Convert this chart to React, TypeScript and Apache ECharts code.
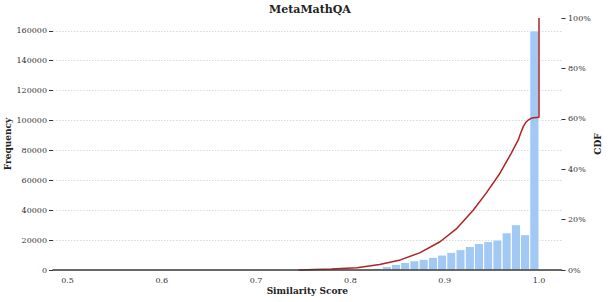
import React, { useEffect, useRef } from "react";
import * as echarts from "echarts";

// ---------- data ----------
const TITLE = "MetaMathQA";
const X_NAME = "Similarity Score";
const Y_NAME = "Frequency";
const Y2_NAME = "CDF";

// histogram: 50 bins from BIN_START, each BIN_WIDTH wide
const BIN_START = 0.511;
const BIN_WIDTH = 0.00978;
const BIN_COUNTS = [
  0, 0, 0, 0, 0, 0, 0, 0, 0, 0,
  0, 0, 0, 0, 0, 0, 0, 0, 0, 0,
  0, 0, 20, 40, 70, 110, 170, 260, 150, 250,
  400, 700, 1200, 2300, 3800, 5000, 6200, 7200, 8500, 10000,
  11800, 13600, 15700, 17700, 19000, 20100, 24900, 30300, 23600, 160000,
];

// cumulative distribution (last point: the jump at 1.0)
const CDF_X = [
  0.745, 0.78, 0.807, 0.831, 0.853, 0.874, 0.895, 0.912,
  0.93, 0.944, 0.9586, 0.9705, 0.978, 0.9806, 0.9833, 0.9859, 0.9886,
  0.9912, 0.9939, 0.997, 1.0, 1.0,
];
const CDF_Y = [
  0, 0.004, 0.009, 0.022, 0.04, 0.069, 0.112, 0.162,
  0.236, 0.305, 0.384, 0.463, 0.516, 0.544, 0.569, 0.585, 0.595,
  0.601, 0.604, 0.6055, 0.606, 1.0,
];

const X_MIN_TICK = 0.5;
const X_MAX_TICK = 1.0;
const X_STEP = 0.1;
const FREQ_MAX = 160000;
const FREQ_STEP = 20000;
const CDF_MAX = 1;
const CDF_STEP = 0.2;

// ---------- layout ----------
const W = 609;
const H = 302;
const PLOT_LEFT = 53;
const PLOT_RIGHT = 561.5;
const PLOT_BOTTOM = 270;
const CDF_TOP = 18;
const FREQ_TOP = 30.8;
const X_LO_PX = 67.5; // pixel of 0.5
const X_HI_PX = 539; // pixel of 1.0

const FONT = "DejaVu Serif";
const BAR_COLOR = "#a1c9f4";
const LINE_COLOR = "#b22222";
const TEXT_COLOR = "#333";

export default function App() {
  const ref = useRef<HTMLDivElement>(null);

  useEffect(() => {
    if (!ref.current) return;
    const chart = echarts.init(ref.current, undefined, { renderer: "svg" });

    const pxPerUnit = (X_HI_PX - X_LO_PX) / (X_MAX_TICK - X_MIN_TICK);
    const fullMin = X_MIN_TICK - (X_LO_PX - PLOT_LEFT) / pxPerUnit;
    const fullMax = X_MAX_TICK + (PLOT_RIGHT - X_HI_PX) / pxPerUnit;

    const barData = BIN_COUNTS.map((c, i) => [
      BIN_START + i * BIN_WIDTH,
      BIN_START + (i + 1) * BIN_WIDTH,
      c,
    ]);
    const cdfPts = CDF_X.map((x, i) => [x, CDF_Y[i]]);

    const option: any = {
      animation: false,
      backgroundColor: "#fff",
      textStyle: { fontFamily: FONT },
      title: {
        text: TITLE,
        left: 264,
        top: -1,
        textStyle: { fontFamily: FONT, fontSize: 11, fontWeight: "bold", color: "#222" },
      },
      grid: [
        {
          left: X_LO_PX,
          right: W - X_HI_PX,
          top: CDF_TOP,
          bottom: H - PLOT_BOTTOM,
          containLabel: false,
          outerBoundsMode: "none",
        },
        {
          left: PLOT_LEFT,
          right: W - PLOT_RIGHT,
          top: FREQ_TOP,
          bottom: H - PLOT_BOTTOM,
          containLabel: false,
          outerBoundsMode: "none",
        },
      ],
      xAxis: [
        {
          type: "value",
          gridIndex: 0,
          min: X_MIN_TICK,
          max: X_MAX_TICK,
          interval: X_STEP,
          axisLine: { show: false },
          axisTick: { show: false },
          splitLine: { show: false },
          axisLabel: {
            margin: 6,
            fontSize: 8,
            fontFamily: FONT,
            color: TEXT_COLOR,
            formatter: (v: number) => v.toFixed(1),
          },
        },
        {
          type: "value",
          gridIndex: 1,
          min: fullMin,
          max: fullMax,
          z: 5,
          axisLine: { show: true, onZero: false, lineStyle: { color: "#3a3a3a", width: 1.6 } },
          axisTick: { show: false },
          axisLabel: { show: false },
          splitLine: { show: false },
          name: X_NAME,
          nameLocation: "middle",
          nameGap: 16,
          nameMoveOverlap: false,
          nameTextStyle: { fontFamily: FONT, fontSize: 9, fontWeight: "bold", color: "#222" },
        },
      ],
      yAxis: [
        {
          type: "value",
          gridIndex: 0,
          position: "right",
          offset: PLOT_RIGHT - X_HI_PX,
          min: 0,
          max: CDF_MAX,
          interval: CDF_STEP,
          axisLine: { show: false },
          axisTick: { show: true, length: 4, lineStyle: { color: TEXT_COLOR } },
          splitLine: { show: false },
          axisLabel: {
            margin: 6.5,
            fontSize: 8,
            fontFamily: FONT,
            color: TEXT_COLOR,
            formatter: (v: number) => Math.round(v * 100) + "%",
          },
          name: Y2_NAME,
          nameLocation: "middle",
          nameRotate: 90,
          nameGap: 32,
          nameMoveOverlap: false,
          nameTextStyle: { fontFamily: FONT, fontSize: 9, fontWeight: "bold", color: "#222" },
        },
        {
          type: "value",
          gridIndex: 1,
          position: "left",
          min: 0,
          max: FREQ_MAX,
          interval: FREQ_STEP,
          axisLine: { show: false },
          axisTick: { show: true, length: 4, lineStyle: { color: TEXT_COLOR } },
          splitLine: { show: true, lineStyle: { color: "#cfcfcf", width: 0.8, type: [1.5, 1.5] } },
          axisLabel: {
            margin: 6,
            fontSize: 8,
            fontFamily: FONT,
            color: TEXT_COLOR,
            formatter: (v: number) => String(v),
          },
        },
        {
          type: "value",
          gridIndex: 0,
          position: "left",
          min: 0,
          max: 1,
          axisLine: { show: false },
          axisTick: { show: false },
          axisLabel: { show: false },
          splitLine: { show: false },
          name: Y_NAME,
          nameLocation: "middle",
          nameRotate: 90,
          nameGap: X_LO_PX - 12.5,
          nameMoveOverlap: false,
          nameTextStyle: { fontFamily: FONT, fontSize: 9, fontWeight: "bold", color: "#222" },
        },
      ],
      series: [
        {
          type: "custom",
          xAxisIndex: 1,
          yAxisIndex: 1,
          encode: { x: [0, 1], y: 2 },
          data: barData,
          renderItem: (params: any, api: any) => {
            const x0 = api.value(0);
            const x1 = api.value(1);
            const v = api.value(2);
            if (!v) return null;
            const p0 = api.coord([x0, v]);
            const p1 = api.coord([x1, 0]);
            return {
              type: "rect",
              shape: { x: p0[0], y: p0[1], width: p1[0] - p0[0], height: p1[1] - p0[1] },
              style: { fill: BAR_COLOR, stroke: "#fff", lineWidth: 1 },
            };
          },
        },
        {
          type: "line",
          xAxisIndex: 0,
          yAxisIndex: 0,
          data: cdfPts,
          showSymbol: false,
          symbol: "none",
          clip: false,
          lineStyle: { color: LINE_COLOR, width: 1.5 },
          z: 3,
        },
      ],
    };

    chart.setOption(option);
    return () => chart.dispose();
  }, []);

  return (
    <div
      ref={ref}
      style={{ position: "fixed", left: 0, top: 0, width: W, height: H, background: "#fff" }}
    />
  );
}
